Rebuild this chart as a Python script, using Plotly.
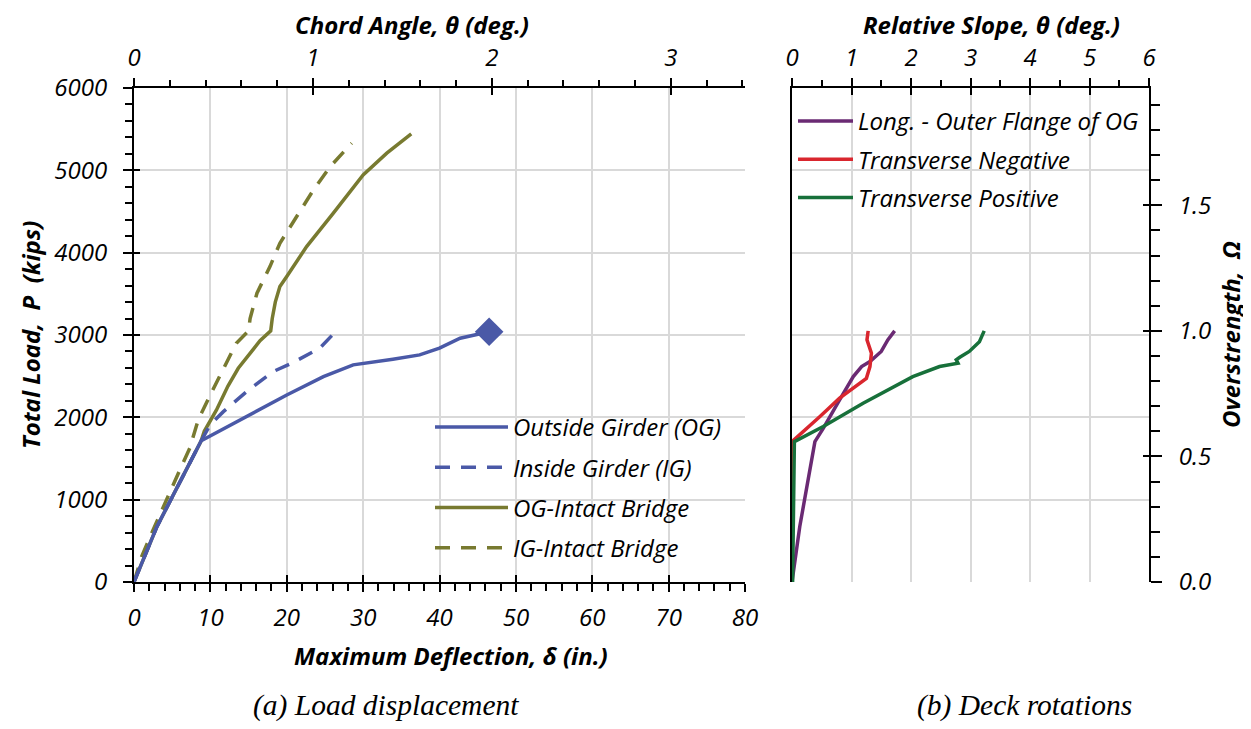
import plotly.graph_objects as go

# The page body adds an 8px margin, so the figure is drawn 8px in from the window corner.
OFF = 8
W, H = 1243, 721


def px(x):
    return (x - OFF) / W


def py(y):
    return 1 - (y - OFF) / H


# ---------------- data: (a) load displacement ----------------
og_defl = [0, 3.0, 8.8, 20.0, 24.8, 28.7, 33.9, 37.4, 40.0, 42.7, 46.5]
og_load = [0, 672, 1715, 2272, 2495, 2637, 2706, 2758, 2840, 2961, 3040]

ig_defl = [0, 3.0, 8.8, 9.95, 11.7, 14.75, 18.2, 20.9, 24.3, 26.5]
ig_load = [0, 672, 1715, 1908, 2069, 2312, 2555, 2669, 2839, 3050]

ogi_defl = [0, 3.0, 8.8, 9.2, 10.8, 12.3, 13.65, 14.5, 15.6, 16.5, 17.9, 18.1,
            18.5, 19.1, 20.0, 22.6, 26.1, 30.0, 33.1, 36.3]
ogi_load = [0, 672, 1715, 1830, 2090, 2380, 2596, 2697, 2839, 2930, 3050, 3200,
            3400, 3588, 3710, 4074, 4480, 4945, 5209, 5443]

igi_defl = [0, 1.0, 2.5, 4.3, 6.0, 7.3, 8.4, 10.2, 11.7, 13.4, 15.0, 15.2, 16.1,
            17.8, 19.1, 21.3, 23.5, 25.7, 28.5]
igi_load = [0, 308, 632, 1017, 1361, 1624, 1968, 2312, 2596, 2900, 3050, 3200,
            3508, 3831, 4115, 4439, 4763, 5046, 5330]

# ---------------- data: (b) deck rotations ----------------
long_slope = [0, 0.13, 0.385, 0.525, 0.80, 1.03, 1.17, 1.31, 1.50, 1.61, 1.725]
long_omega = [0, 0.22, 0.559, 0.612, 0.725, 0.818, 0.858, 0.878, 0.918, 0.964, 1.0]

neg_slope = [0, 0, 0.47, 0.80, 1.25, 1.31, 1.335, 1.26, 1.28]
neg_omega = [0, 0.559, 0.659, 0.732, 0.811, 0.858, 0.911, 0.964, 1.0]

pos_slope = [0.01, 0.04, 0.525, 1.195, 2.03, 2.48, 2.79, 2.76, 2.82, 2.98, 3.15, 3.18, 3.23]
pos_omega = [0, 0.559, 0.619, 0.712, 0.818, 0.858, 0.871, 0.885, 0.895, 0.918, 0.957, 0.975, 1.0]

peak_load = 3050.0          # overstrength reference load (kips)
in_per_degree = 23.43       # deflection per degree of chord angle

BLUE = "#4A59A7"
OLIVE = "#787A30"
PURPLE = "#6A2A73"
RED = "#D9262E"
GREEN = "#17703A"
DASH = "15px,11px"

FONT = "Open Sans"
GRID = "#D9D9D9"
FS = 24

fig = go.Figure()

# olive traces first so the blue lines sit on top
fig.add_trace(go.Scatter(x=ogi_defl, y=ogi_load, mode="lines", name="OG-Intact Bridge",
                         line=dict(color=OLIVE, width=3.5), legendrank=3,
                         legendgroup="c", xaxis="x", yaxis="y"))
fig.add_trace(go.Scatter(x=igi_defl, y=igi_load, mode="lines", name="IG-Intact Bridge",
                         line=dict(color=OLIVE, width=3.5, dash=DASH), legendrank=4,
                         legendgroup="d", xaxis="x", yaxis="y"))
fig.add_trace(go.Scatter(x=ig_defl, y=ig_load, mode="lines", name="Inside Girder (IG)",
                         line=dict(color=BLUE, width=3.5, dash=DASH), legendrank=2,
                         legendgroup="b", xaxis="x", yaxis="y"))
fig.add_trace(go.Scatter(x=og_defl, y=og_load, mode="lines", name="Outside Girder (OG)",
                         line=dict(color=BLUE, width=3.5), legendrank=1,
                         legendgroup="a", xaxis="x", yaxis="y"))
fig.add_trace(go.Scatter(x=og_defl[-1:], y=og_load[-1:], mode="markers", showlegend=False,
                         marker=dict(symbol="diamond", size=22, color=BLUE),
                         xaxis="x", yaxis="y"))

# empty traces so that label-only / tick-only axes are built
for xa, ya in [("x2", "y"), ("x3", "y3"), ("x4", "y"), ("x", "y2"),
               ("x5", "y"), ("x6", "y3"), ("x3", "y5")]:
    fig.add_trace(go.Scatter(x=[], y=[], showlegend=False, hoverinfo="skip",
                             xaxis=xa, yaxis=ya))

fig.add_trace(go.Scatter(x=long_slope, y=long_omega, mode="lines",
                         name="Long. - Outer Flange of OG", legend="legend2",
                         line=dict(color=PURPLE, width=3.5), legendgroup="e", legendrank=1,
                         xaxis="x3", yaxis="y4"))
fig.add_trace(go.Scatter(x=neg_slope, y=neg_omega, mode="lines",
                         name="Transverse Negative", legend="legend2",
                         line=dict(color=RED, width=3.5), legendgroup="f", legendrank=2,
                         xaxis="x3", yaxis="y4"))
fig.add_trace(go.Scatter(x=pos_slope, y=pos_omega, mode="lines",
                         name="Transverse Positive", legend="legend2",
                         line=dict(color=GREEN, width=3.5), legendgroup="g", legendrank=3,
                         xaxis="x3", yaxis="y4"))

tickfont = dict(family=FONT, size=FS, color="black", style="italic")
titlefont = dict(family=FONT, size=FS, color="black", style="italic", weight="bold")

common = dict(showline=True, linecolor="black", linewidth=2, tickcolor="black",
              tickwidth=2, gridcolor=GRID, gridwidth=2, zeroline=False,
              tickfont=tickfont, automargin=False)
inner = dict(showline=False, showgrid=False, zeroline=False, showticklabels=False,
             ticks="inside", tickcolor="black", tickwidth=2, automargin=False)

left_dom = [px(134), px(745)]
right_dom = [px(792), px(1149)]
ydom = [py(582), py(88)]
chord_range = [0, 80 / in_per_degree]
omega_range = [0, 6000 / peak_load]

fig.update_layout(
    width=W, height=H, autosize=False,
    margin=dict(l=0, r=0, t=0, b=0, pad=0),
    paper_bgcolor="white", plot_bgcolor="rgba(0,0,0,0)",
    xaxis=dict(domain=left_dom, anchor="y", side="bottom", range=[0, 80],
               tick0=0, dtick=10, ticks="outside", ticklen=8, showgrid=True,
               ticklabelstandoff=5,
               minor=dict(dtick=2, ticks="outside", ticklen=7, tickcolor="black",
                          tickwidth=1.5, showgrid=False), **common),
    xaxis4=dict(overlaying="x", anchor="y", side="bottom", range=[0, 80],
                tick0=0, dtick=10, ticklen=7, **inner),
    xaxis2=dict(overlaying="x", anchor="y", side="top", range=chord_range,
                tick0=0, dtick=1, ticks="outside", ticklen=8, showgrid=False,
                ticklabelstandoff=2,
                minor=dict(dtick=0.2, ticks="outside", ticklen=6, tickcolor="black",
                           tickwidth=1.5), **common),
    xaxis5=dict(overlaying="x", anchor="y", side="top", range=chord_range,
                tick0=0, dtick=1, ticklen=7, **inner),
    yaxis=dict(domain=ydom, anchor="x", range=[0, 6000], tick0=0, dtick=1000,
               ticks="outside", ticklen=9, showgrid=True, ticklabelstandoff=11,
               minor=dict(dtick=200, ticks="outside", ticklen=7, tickcolor="black",
                          tickwidth=1.5, showgrid=False), **common),
    yaxis2=dict(overlaying="y", anchor="x", side="left", range=[0, 6000],
                tick0=0, dtick=1000, ticklen=6, **inner),
    xaxis3=dict(domain=right_dom, anchor="y3", side="top", range=[0, 6],
                tick0=0, dtick=1, ticks="outside", ticklen=8, showgrid=True,
                ticklabelstandoff=2,
                minor=dict(dtick=0.5, ticks="outside", ticklen=6, tickcolor="black",
                           tickwidth=1.5, showgrid=False), **common),
    xaxis6=dict(overlaying="x3", anchor="y3", side="top", range=[0, 6],
                tick0=0, dtick=1, ticklen=7, **inner),
    yaxis3=dict(domain=ydom, anchor="x3", range=[0, 6000], tick0=0, dtick=1000,
                showgrid=True, showticklabels=False, ticks="", **common),
    yaxis4=dict(overlaying="y3", anchor="x3", side="right", range=omega_range,
                tick0=0, dtick=0.5, tickformat=".1f", ticks="outside", ticklen=11,
                showgrid=False, ticklabelstandoff=12,
                minor=dict(dtick=0.1, ticks="outside", ticklen=9, tickcolor="black",
                           tickwidth=1.5), **common),
    yaxis5=dict(overlaying="y3", anchor="x3", side="right", range=omega_range,
                tick0=0, dtick=0.5, ticklen=6, **inner),
    legend=dict(x=px(430), y=py(405), xanchor="left", yanchor="top",
                font=dict(family=FONT, size=FS, color="black", style="italic"),
                bgcolor="rgba(0,0,0,0)", traceorder="grouped", tracegroupgap=6,
                itemwidth=73),
    legend2=dict(x=px(793), y=py(99), xanchor="left", yanchor="top",
                 font=dict(family=FONT, size=FS, color="black", style="italic"),
                 bgcolor="rgba(0,0,0,0)", traceorder="grouped", tracegroupgap=4,
                 itemwidth=55),
    showlegend=True,
)

capfont = dict(family="Liberation Serif", size=29.5, color="black", style="italic")
annotations = [
    dict(text="Chord Angle, θ (deg.)", x=px(412), y=py(25), font=titlefont),
    dict(text="Relative Slope, θ (deg.)", x=px(991), y=py(25), font=titlefont),
    dict(text="Maximum Deflection, δ (in.)", x=px(451), y=py(655), font=titlefont),
    dict(text="Total Load,  P  (kips)", x=px(30), y=py(335), textangle=-90, font=titlefont),
    dict(text="Overstrength,  Ω", x=px(1230), y=py(335), textangle=-90, font=titlefont),
    dict(text="(a) Load displacement", x=px(386), y=py(705), font=capfont),
    dict(text="(b) Deck rotations", x=px(1024), y=py(705), font=capfont),
]
for a in annotations:
    a.update(xref="paper", yref="paper", showarrow=False, xanchor="center", yanchor="middle")
fig.update_layout(annotations=annotations)

fig.write_html("out.html")
